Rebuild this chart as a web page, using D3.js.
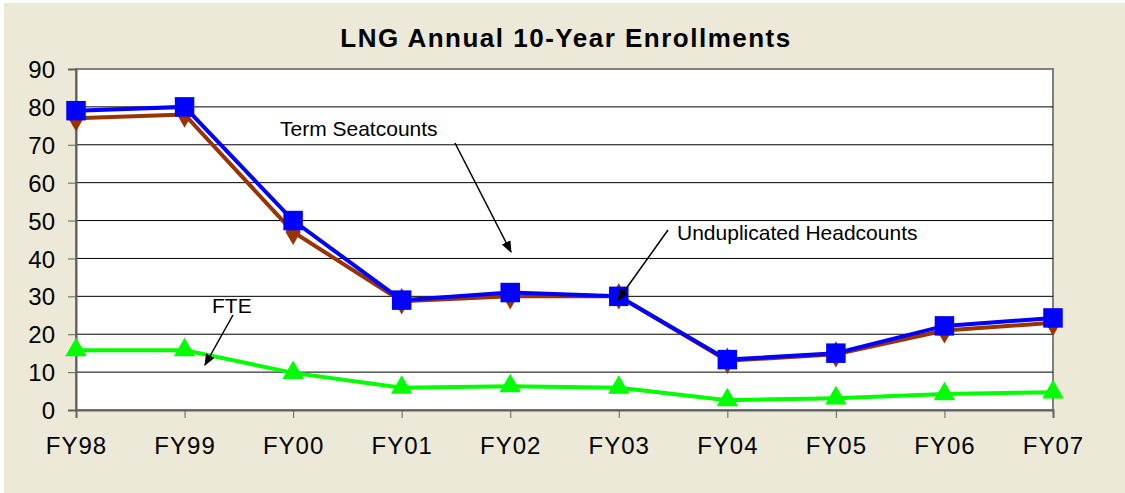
<!DOCTYPE html>
<html>
<head>
<meta charset="utf-8">
<script src="https://cdn.jsdelivr.net/npm/d3@7"></script>
<style>
  body { margin: 0; background: #fff; }
  text { font-family: "Liberation Sans", Arial, sans-serif; fill: #000; }
</style>
</head>
<body>
<div id="chart"></div>
<script>
const W = 1125, H = 493;

const years = ['FY98', 'FY99', 'FY00', 'FY01', 'FY02', 'FY03', 'FY04', 'FY05', 'FY06', 'FY07'];
const seatcounts = [79, 80, 50, 29, 31, 30, 13.3, 15, 22.2, 24.3];
const headcounts = [77, 78, 47, 28.7, 30, 30, 13, 14.7, 21, 23];
const fte = [15.8, 15.8, 9.8, 5.9, 6.3, 5.9, 2.6, 3.1, 4.2, 4.7];
const yTicks = [0, 10, 20, 30, 40, 50, 60, 70, 80, 90];

const margin = { left: 76, right: 72, top: 69, bottom: 83 };

const svg = d3.select('#chart')
  .append('svg')
  .attr('width', W)
  .attr('height', H);

// beige chart area
svg.append('rect')
  .attr('x', 4).attr('y', 3)
  .attr('width', W - 4).attr('height', H - 3)
  .attr('fill', '#ECE9D8');

const x = d3.scalePoint()
  .domain(years)
  .range([margin.left, W - margin.right]);

const y = d3.scaleLinear()
  .domain([0, 90])
  .range([H - margin.bottom, margin.top]);

// plot area
svg.append('rect')
  .attr('x', margin.left).attr('y', margin.top)
  .attr('width', x.range()[1] - margin.left)
  .attr('height', y(0) - margin.top)
  .attr('fill', '#fff')
  .attr('stroke', '#808080')
  .attr('stroke-width', 2);

// gridlines
svg.append('g')
  .selectAll('line')
  .data(yTicks.filter(d => d > 0 && d < 90))
  .enter()
  .append('line')
  .attr('x1', margin.left).attr('x2', x.range()[1])
  .attr('y1', d => y(d)).attr('y2', d => y(d))
  .attr('stroke', '#000')
  .attr('stroke-width', 1);

const yAxis = d3.axisLeft(y).tickValues(yTicks).tickSize(8);
const gy = svg.append('g')
  .attr('transform', 'translate(' + margin.left + ',0)')
  .call(yAxis);
gy.select('.domain').attr('stroke', '#606060').attr('stroke-width', 2);
gy.selectAll('.tick line').attr('stroke', '#606060');
gy.selectAll('.tick text')
  .attr('x', -21)
  .attr('dy', '0.36em')
  .style('font-size', '24px');

const xAxis = d3.axisBottom(x).tickSize(8).tickPadding(19);
const gx = svg.append('g')
  .attr('transform', 'translate(0,' + y(0) + ')')
  .call(xAxis);
gx.select('.domain').attr('stroke', '#606060').attr('stroke-width', 2);
gx.selectAll('.tick line').attr('stroke', '#606060');
gx.selectAll('.tick text').style('font-size', '24px').style('letter-spacing', '1px');

// title
svg.append('text')
  .attr('x', 566)
  .attr('y', 47)
  .attr('text-anchor', 'middle')
  .style('font-size', '26px')
  .style('font-weight', 'bold')
  .style('letter-spacing', '1.5px')
  .text('LNG Annual 10-Year Enrollments');

const line = d3.line()
  .x((d, i) => x(years[i]))
  .y(d => y(d));

function drawSeries(data, color, symbol, size) {
  const g = svg.append('g');
  g.append('path')
    .datum(data)
    .attr('d', line)
    .attr('fill', 'none')
    .attr('stroke', color)
    .attr('stroke-width', 4);
  g.selectAll('path.mark')
    .data(data)
    .enter()
    .append('path')
    .attr('class', 'mark')
    .attr('d', d3.symbol().type(symbol).size(size))
    .attr('transform', (d, i) => 'translate(' + x(years[i]) + ',' + y(d) + ')')
    .attr('fill', color);
}

drawSeries(headcounts, '#993300', d3.symbolDiamond, 200);
drawSeries(seatcounts, '#0000FF', d3.symbolSquare, 380);
drawSeries(fte, '#00FF00', d3.symbolTriangle, 200);

// annotations
svg.append('defs').append('marker')
  .attr('id', 'arr')
  .attr('viewBox', '0 0 10 10')
  .attr('refX', 9).attr('refY', 5)
  .attr('markerWidth', 8).attr('markerHeight', 8)
  .attr('orient', 'auto')
  .append('path')
  .attr('d', 'M0,1 L10,5 L0,9 Z')
  .attr('fill', '#000');

const notes = [
  { text: 'Term Seatcounts', tx: 280, ty: 136, x1: 455, y1: 143, x2: 511, y2: 252 },
  { text: 'Unduplicated Headcounts', tx: 677, ty: 240, x1: 668, y1: 230, x2: 618, y2: 300 },
  { text: 'FTE', tx: 212, ty: 313, x1: 233, y1: 315, x2: 205, y2: 365 }
];

notes.forEach(n => {
  svg.append('text')
    .attr('x', n.tx).attr('y', n.ty)
    .style('font-size', '21px')
    .text(n.text);
  svg.append('line')
    .attr('x1', n.x1).attr('y1', n.y1)
    .attr('x2', n.x2).attr('y2', n.y2)
    .attr('stroke', '#000')
    .attr('stroke-width', 1.5)
    .attr('marker-end', 'url(#arr)');
});
</script>
</body>
</html>
